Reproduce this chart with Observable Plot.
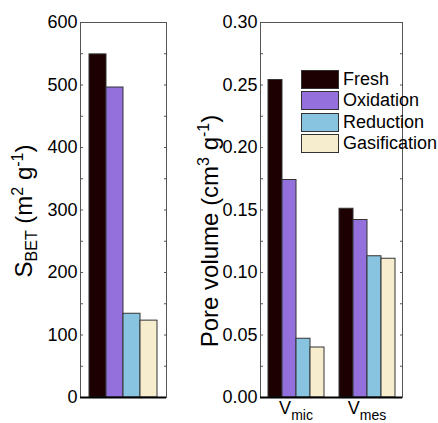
<!DOCTYPE html>
<html>
<head>
<meta charset="utf-8">
<script src="https://cdn.jsdelivr.net/npm/d3@7"></script>
<script src="https://cdn.jsdelivr.net/npm/@observablehq/plot@0.6"></script>
<style>
  html, body { margin: 0; padding: 0; background: #fff; }
  #wrap { position: relative; width: 438px; height: 423px; overflow: hidden; background: #fff;
          font-family: "Liberation Sans", Arial, sans-serif; }
  #left, #right { position: absolute; top: 0; }
  #left { left: 0; }
  #right { left: 175px; }
  #legend { position: absolute; left: 301px; top: 70px; font-size: 18px; color: #000; }
  .row { position: relative; height: 21.4px; }
  .sw { position: absolute; left: 0; top: 0; width: 38px; height: 19px; box-sizing: border-box; border: 1px solid #333; }
  .lb { position: absolute; left: 42px; top: -1px; line-height: 21px; white-space: nowrap; }
</style>
</head>
<body>
<div id="wrap">
  <div id="left"></div>
  <div id="right"></div>
  <div id="legend"></div>
</div>
<script>
// ---- data ----
const series = ["Fresh", "Oxidation", "Reduction", "Gasification"];
const colors = ["#1c0002", "#9370db", "#88c3e0", "#f6edcf"];
const sbet = [549, 496, 134, 123];
const groups = ["Vmic", "Vmes"];
const vmic = [0.254, 0.174, 0.047, 0.040];
const vmes = [0.151, 0.142, 0.113, 0.111];
const leftTicks = [0, 100, 200, 300, 400, 500, 600];
const leftMinor = [50, 100, 150, 200, 250, 300, 350, 400, 450, 500, 550];
const rightTicks = [0, 0.05, 0.10, 0.15, 0.20, 0.25, 0.30];
const rightMinor = [0.025, 0.05, 0.075, 0.10, 0.125, 0.15, 0.175, 0.20, 0.225, 0.25, 0.275];

const leftData = series.map((s, i) => ({series: s, value: sbet[i]}));
const rightData = [
  ...series.map((s, i) => ({group: groups[0], series: s, value: vmic[i]})),
  ...series.map((s, i) => ({group: groups[1], series: s, value: vmes[i]}))
];

const FONT = '"Liberation Sans", Arial, sans-serif';
const style = {fontFamily: FONT, fontSize: "18px", color: "#000", background: "transparent", overflow: "visible"};
const frameColor = "#555";

const left = Plot.plot({
  width: 175, height: 423,
  marginTop: 22, marginBottom: 26, marginLeft: 80, marginRight: 9,
  style,
  x: {domain: series, paddingInner: 0, paddingOuter: 0.46, axis: null},
  y: {domain: [0, 600]},
  color: {domain: series, range: colors},
  marks: [
    Plot.barY(leftData, {x: "series", y: "value", fill: "series", stroke: "#333", strokeWidth: 1}),
    Plot.frame({stroke: frameColor}),
    Plot.ruleY([0], {stroke: "#000", strokeWidth: 2}),
    Plot.axisY(leftMinor, {anchor: "left", dx: 3, tickSize: 3, tickFormat: () => "", label: null, stroke: frameColor}),
    Plot.axisY(leftMinor, {anchor: "right", dx: -3, tickSize: 3, tickFormat: () => "", label: null, stroke: frameColor}),
    Plot.axisY(leftTicks, {anchor: "left", tickSize: 0, tickPadding: 3, label: null}),
    Plot.text(["§S"], {text: d => d, frameAnchor: "left", rotate: -90, dx: -56, dy: 1, fontSize: 24, textAnchor: "middle", lineAnchor: "middle"})
  ]
});

const right = Plot.plot({
  width: 263, height: 423,
  marginTop: 22, marginBottom: 26, marginLeft: 84, marginRight: 36,
  style,
  fx: {domain: groups, padding: 0},
  x: {domain: series, paddingInner: 0, paddingOuter: 0.5, axis: null},
  y: {domain: [0, 0.3]},
  color: {domain: series, range: colors},
  marks: [
    Plot.barY(rightData, {fx: "group", x: "series", y: "value", fill: "series", stroke: "#333", strokeWidth: 1}),
    Plot.frame({stroke: frameColor, facet: "super"}),
    Plot.ruleY([0], {stroke: "#000", strokeWidth: 2}),
    Plot.axisY(rightMinor, {anchor: "left", dx: 3, tickSize: 3, tickFormat: () => "", label: null, stroke: frameColor}),
    Plot.axisY(rightMinor, {anchor: "right", dx: -3, tickSize: 3, tickFormat: () => "", label: null, stroke: frameColor}),
    Plot.axisY(rightTicks, {anchor: "left", tickSize: 0, tickPadding: 3, label: null, tickFormat: d3.format(".2f")}),
    Plot.axisFx({anchor: "bottom", tickSize: 0, tickPadding: 4, label: null, tickFormat: d => "§" + d}),
    Plot.text(["§P"], {text: d => d, frameAnchor: "left", rotate: -90, dx: -50, dy: 21, fontSize: 24, textAnchor: "middle", lineAnchor: "middle", facet: "super"})
  ]
});

document.getElementById("left").appendChild(left);
document.getElementById("right").appendChild(right);

// rich text (subscripts / superscripts) for titles and group labels
const NS = "http://www.w3.org/2000/svg";
function rich(svg, key, parts, small, sub, sup) {
  for (const t of svg.querySelectorAll("text")) {
    if (t.textContent.trim() !== key) continue;
    while (t.firstChild) t.removeChild(t.firstChild);
    let shift = 0;
    for (const [s, kind] of parts) {
      const ts = document.createElementNS(NS, "tspan");
      const target = kind === "sub" ? sub : kind === "sup" ? -sup : 0;
      ts.setAttribute("dy", target - shift);
      shift = target;
      if (kind) ts.setAttribute("font-size", small);
      ts.textContent = s;
      t.appendChild(ts);
    }
  }
}
rich(left, "§S", [["S"], ["BET", "sub"], ["\u00a0(m"], ["2", "sup"], ["\u00a0g"], ["-1", "sup"], [")"]], 16, 5, 9);
rich(right, "§P", [["Pore volume (cm"], ["3", "sup"], ["\u00a0g"], ["-1", "sup"], [")"]], 16, 5, 9);
rich(right, "§Vmic", [["V"], ["mic", "sub"]], 14, 6, 0);
rich(right, "§Vmes", [["V"], ["mes", "sub"]], 14, 6, 0);

// legend
const lg = document.getElementById("legend");
series.forEach((s, i) => {
  const row = document.createElement("div");
  row.className = "row";
  const sw = document.createElement("div");
  sw.className = "sw";
  sw.style.background = colors[i];
  const lb = document.createElement("div");
  lb.className = "lb";
  lb.textContent = s;
  row.appendChild(sw); row.appendChild(lb);
  lg.appendChild(row);
});
</script>
</body>
</html>
